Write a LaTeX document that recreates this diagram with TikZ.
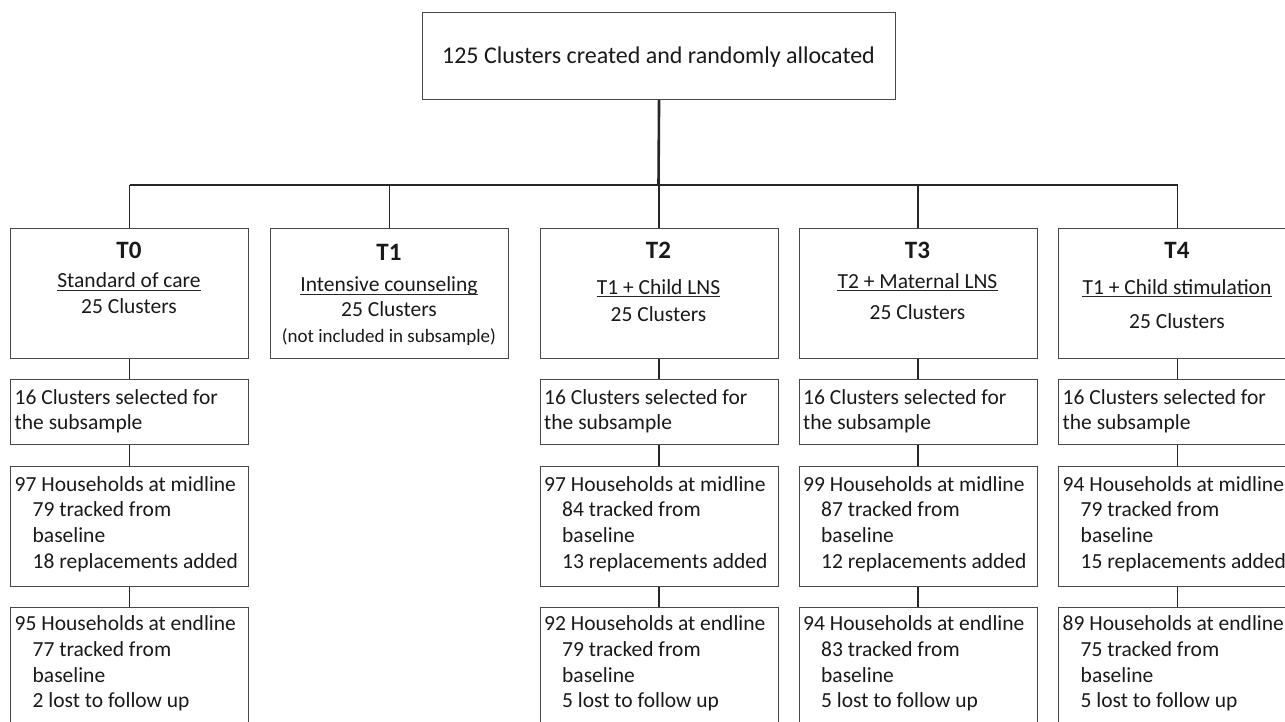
\documentclass[tikz,border=0pt]{standalone}
\usepackage{fontspec}
\setmainfont{Carlito}
\newcommand\myind{\hspace*{18pt}}
\newcommand\textlines[4]{%
  \foreach \linetext [count=\lineno] in {#4} {%
    \node[txt, anchor=base west] (#1-\lineno) at (#2, {#3+(\lineno-1)*25.7}) {\linetext};}}
\begin{document}
\begin{tikzpicture}[x=1pt,y=-1pt,
  box/.style={draw=black!72, line width=1.1pt, rectangle, inner sep=0pt, minimum width=238pt, anchor=north west},
  txt/.style={inner sep=0pt, font=\fontsize{21.5}{25.7}\selectfont, text=black!90},
  head/.style={inner sep=0pt, font=\fontsize{25}{30}\selectfont\bfseries, text=black!90, anchor=base},
  ctr/.style={txt, anchor=base},
  big/.style={inner sep=0pt, font=\fontsize{24}{29}\selectfont, text=black!90, anchor=base},
  small/.style={inner sep=0pt, font=\fontsize{19}{23}\selectfont, text=black!90, anchor=base},
  conn/.style={draw=black!85, line width=1.2pt},
  ul/.style={draw=black!85, line width=1pt}]
\clip (0,0) rectangle (1285,722);

% top box
\node[box, minimum width=473pt, minimum height=87pt] (top) at (422,12) {};
\node[big] (toptxt) at (658.5,63.5) {125 Clusters created and randomly allocated};

% treatment boxes
\foreach \n/\x in {T0/10, T1/270, T2/539.5, T3/798.5, T4/1058}
  \node[box, minimum height=130pt] (\n) at (\x,228) {};

% lower boxes
\foreach \n/\x in {0/10, 2/539.5, 3/798.5, 4/1058} {
  \node[box, minimum height=65pt] (S\n) at (\x,379) {};
  \node[box, minimum height=120pt] (M\n) at (\x,466) {};
  \node[box, minimum height=130pt] (E\n) at (\x,607) {};
}

% headers
\node[head] (h0) at (129,258.5) {T0};
\node[ctr] (h0a) at (129,287.7) {Standard of care};
\node[ctr] (h0b) at (129,313.3) {25 Clusters};

\node[head] (h1) at (389,260) {T1};
\node[ctr] (h1a) at (389,291.7) {Intensive counseling};
\node[ctr] (h1b) at (389,316.7) {25 Clusters};
\node[small] (h1c) at (389,342.5) {(not included in subsample)};

\node[head] (h2) at (658.5,258.5) {T2};
\node[ctr] (h2a) at (658.5,294) {T1 + Child LNS};
\node[ctr] (h2b) at (658.5,321.7) {25 Clusters};

\node[head] (h3) at (917.5,258.5) {T3};
\node[ctr] (h3a) at (917.5,288.3) {T2 + Maternal LNS};
\node[ctr] (h3b) at (917.5,319.3) {25 Clusters};

\node[head] (h4) at (1177,258.5) {T4};
\node[ctr] (h4a) at (1177,294) {T1 + Child stimulation};
\node[ctr] (h4b) at (1177,328.3) {25 Clusters};

% underlines
\foreach \u in {h0a,h1a,h2a,h3a,h4a}
  \draw[ul] ([yshift=-2.6pt]\u.base west) -- ([yshift=-2.6pt]\u.base east);

% lower texts
\textlines{s0}{14.5}{404}{16 Clusters selected for,the subsample}
\textlines{m0}{14.5}{491}{97 Households at midline,\myind 79 tracked from,\myind baseline,\myind 18 replacements added}
\textlines{e0}{14.5}{630.7}{95 Households at endline,\myind 77 tracked from,\myind baseline,\myind 2 lost to follow up}

\textlines{s2}{544}{404}{16 Clusters selected for,the subsample}
\textlines{m2}{544}{491}{97 Households at midline,\myind 84 tracked from,\myind baseline,\myind 13 replacements added}
\textlines{e2}{544}{630.7}{92 Households at endline,\myind 79 tracked from,\myind baseline,\myind 5 lost to follow up}

\textlines{s3}{803}{404}{16 Clusters selected for,the subsample}
\textlines{m3}{803}{491}{99 Households at midline,\myind 87 tracked from,\myind baseline,\myind 12 replacements added}
\textlines{e3}{803}{630.7}{94 Households at endline,\myind 83 tracked from,\myind baseline,\myind 5 lost to follow up}

\textlines{s4}{1062.5}{404}{16 Clusters selected for,the subsample}
\textlines{m4}{1062.5}{491}{94 Households at midline,\myind 79 tracked from,\myind baseline,\myind 15 replacements added}
\textlines{e4}{1062.5}{630.7}{89 Households at endline,\myind 75 tracked from,\myind baseline,\myind 5 lost to follow up}

% connectors
\coordinate (hub) at (658.5,185);
\draw[draw=black!85, line width=2.6pt] (top.south) -- (hub);
\draw[draw=black!85, line width=1.8pt] (T0.north |- hub) -- (T4.north |- hub);
\foreach \n in {T0,T1,T2,T3,T4}
  \draw[conn] (\n.north) -- (\n.north |- hub);
\draw[conn] (T0.south) -- (S0.north);
\draw[conn] (T2.south) -- (S2.north);
\draw[conn] (T3.south) -- (S3.north);
\draw[conn] (T4.south) -- (S4.north);
\foreach \n in {0,2,3,4} {
  \draw[conn] (S\n.south) -- (M\n.north);
  \draw[conn] (M\n.south) -- (E\n.north);
}
\end{tikzpicture}
\end{document}
